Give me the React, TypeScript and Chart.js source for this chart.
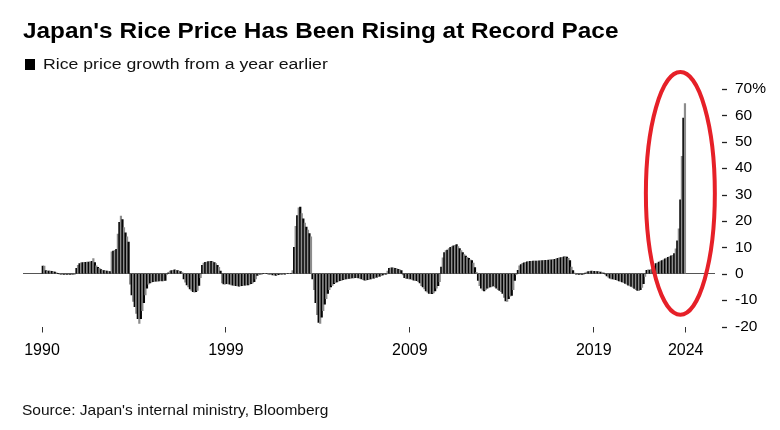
import React, { useEffect, useRef } from 'react';
import { Chart, registerables } from 'chart.js';

Chart.register(...registerables);

// Monthly rice price growth from a year earlier (%), Jan 1990 onward
const growth1990s = [
  2.9, 2.9, 1.2, 1.1, 1.0, 1.0, 0.9, 0.8, 0.6, 0.3, 0.1, -0.1,
  -0.2, -0.3, -0.3, -0.3, -0.3, -0.3, -0.3, -0.3, -0.2, -0.1, 2.0, 3.2,
  3.8, 4.1, 4.2, 4.3, 4.3, 4.4, 4.4, 4.5, 4.7, 5.7, 4.2, 3.0,
  2.4, 2.0, 1.6, 1.3, 1.2, 1.1, 1.0, 0.9, 0.8, 8.3, 8.6, 8.9,
  9.2, 15.0, 19.5, 21.8, 20.5, 17.5, 15.5, 14.0, 12.0, -4.0, -8.0, -10.5,
  -12.5, -15.0, -17.0, -18.8, -17.0, -14.0, -11.0, -8.0, -5.5, -4.0, -3.5, -3.2,
  -3.0, -2.9, -2.8, -2.8, -2.7, -2.6, -2.7, -2.6, -2.5, -0.3, 0.3, 1.0,
  1.2, 1.3, 1.5, 1.3, 1.2, 1.0, 0.8, 0.4, -2.0, -3.2, -4.2, -5.0,
  -5.8, -6.3, -6.8, -7.0, -6.8, -6.3, -4.4, -1.5, 3.2, 4.0, 4.3, 4.4,
  4.6, 4.7, 4.7, 4.5, 4.2, 3.8, 3.2, 2.4, 1.0, -3.5, -3.9, -4.0,
];

const growth2000s = [
  -3.8, -3.9, -4.0, -4.2, -4.3, -4.4, -4.5, -4.6, -4.7, -4.6, -4.5, -4.4,
  -4.3, -4.2, -4.2, -4.0, -3.8, -3.5, -3.0, -2.0, -0.6, -0.3, -0.2, -0.1,
  0.0, 0.0, 0.0, -0.1, -0.2, -0.3, -0.5, -0.5, -0.6, -0.5, -0.4, -0.3,
  -0.2, -0.2, -0.1, 0.0, 0.0, 0.0, 0.0, 1.2, 10.0, 18.0, 22.0, 25.0,
  25.3, 22.8, 20.8, 19.2, 17.7, 16.5, 15.2, 14.0, -2.0, -6.0, -11.0, -15.5,
  -18.5, -18.8, -16.5, -14.0, -11.5, -9.5, -7.5, -6.0, -5.0, -4.4, -3.8, -3.4,
  -3.1, -2.8, -2.6, -2.5, -2.3, -2.1, -2.0, -1.9, -1.8, -1.7, -1.6, -1.6,
  -1.5, -1.5, -1.6, -1.8, -2.0, -2.3, -2.4, -2.4, -2.3, -2.2, -2.0, -1.8,
  -1.7, -1.5, -1.3, -1.1, -0.9, -0.7, -0.5, -0.3, -0.1, 1.0, 2.0, 2.2,
  2.2, 2.1, 2.0, 1.9, 1.7, 1.5, 1.2, -0.5, -1.5, -1.8, -1.8, -2.0,
];

const growth2010s = [
  -2.0, -2.2, -2.4, -2.5, -2.6, -3.0, -3.5, -4.5, -5.0, -5.8, -6.5, -7.0,
  -7.5, -7.6, -7.6, -7.3, -6.5, -5.5, -4.5, -3.0, 2.5, 6.0, 8.0, 8.8,
  9.0, 9.5, 10.0, 10.3, 10.6, 10.8, 11.0, 10.3, 9.5, 8.8, 8.0, 7.3,
  6.7, 6.2, 5.8, 5.3, 5.0, 4.0, 2.3, 0.5, -2.5, -4.5, -5.5, -6.2,
  -6.5, -6.0, -5.5, -5.2, -5.0, -4.8, -4.6, -5.0, -5.5, -6.0, -6.3, -6.8,
  -7.5, -9.0, -10.3, -10.5, -9.5, -8.5, -8.2, -6.0, -2.5, -0.3, 1.3, 3.0,
  3.5, 3.9, 4.1, 4.3, 4.5, 4.6, 4.7, 4.7, 4.8, 4.8, 4.8, 4.8,
  4.9, 4.9, 5.0, 5.0, 5.1, 5.1, 5.2, 5.3, 5.3, 5.4, 5.5, 5.6,
  5.8, 6.0, 6.1, 6.2, 6.4, 6.5, 6.3, 5.8, 5.0, 2.5, 1.2, 0.2,
  -0.2, -0.3, -0.3, -0.3, -0.3, -0.2, 0.2, 0.6, 0.8, 0.9, 1.0, 0.9,
];

const growth2020s = [
  0.9, 0.9, 0.8, 0.7, 0.6, 0.4, 0.2, -0.3, -0.8, -1.3, -1.7, -2.0,
  -2.0, -2.2, -2.3, -2.5, -2.7, -2.9, -3.1, -3.4, -3.7, -4.0, -4.3, -4.6,
  -4.8, -5.2, -5.6, -6.0, -6.3, -6.4, -6.0, -5.2, -3.8, -1.0, 1.3, 1.5,
  1.4, 1.6, 2.0, 2.8, 3.8, 4.0, 4.4, 4.8, 5.0, 5.3, 5.6, 5.9,
  6.2, 6.5, 6.8, 7.0, 7.6, 9.4, 12.5, 17.0, 28.0, 44.5, 59.0, 64.5,
];

const growth = [...growth1990s, ...growth2000s, ...growth2010s, ...growth2020s];

// x-axis labels and their positions (months from Jan 1990)
const tickLabels = ['1990', '1999', '2009', '2019', '2024'];
const tickMonths = [0, 120, 240, 360, 420];

// highlighted region (circled) in data units
const highlightMonths = [394, 439];
const highlightRange = [-15.5, 76.4];

const FONT = '"Liberation Sans", Arial, Helvetica, sans-serif';

const axisDashes = {
  id: 'axisDashes',
  afterDraw(chart: any) {
    const ys = chart.scales.y;
    const { ctx, chartArea } = chart;
    ctx.save();
    ctx.strokeStyle = '#222';
    ctx.lineWidth = 1.3;
    ys.ticks.forEach((t: any) => {
      const py = Math.round(ys.getPixelForValue(t.value)) + 0.5;
      ctx.beginPath();
      ctx.moveTo(chartArea.right + 7, py);
      ctx.lineTo(chartArea.right + 12, py);
      ctx.stroke();
    });
    ctx.restore();
  },
};

const highlightEllipse = {
  id: 'highlightEllipse',
  afterDraw(chart: any) {
    const xs = chart.scales.x;
    const ys = chart.scales.y;
    const { ctx } = chart;
    const x1 = xs.getPixelForValue(highlightMonths[0]);
    const x2 = xs.getPixelForValue(highlightMonths[1]);
    const y1 = ys.getPixelForValue(highlightRange[1]);
    const y2 = ys.getPixelForValue(highlightRange[0]);
    ctx.save();
    ctx.strokeStyle = 'rgb(230, 32, 40)';
    ctx.lineWidth = 4;
    ctx.beginPath();
    ctx.ellipse((x1 + x2) / 2, (y1 + y2) / 2, (x2 - x1) / 2, (y2 - y1) / 2, 0, 0, Math.PI * 2);
    ctx.stroke();
    ctx.restore();
  },
};

const textBase: React.CSSProperties = {
  position: 'absolute',
  whiteSpace: 'nowrap',
  lineHeight: 1,
  fontFamily: FONT,
  transformOrigin: 'left center',
};

export default function App() {
  const ref = useRef<HTMLCanvasElement>(null);

  useEffect(() => {
    const canvas = ref.current;
    if (!canvas) return;
    const chart = new Chart(canvas, {
      type: 'bar',
      data: {
        datasets: [
          {
            label: 'Rice price growth from a year earlier',
            data: growth.map((v, i) => ({ x: i + 0.5, y: v })),
            backgroundColor: (c: any) => (c.dataIndex % 2 === 0 ? '#050505' : '#8c8c8c'),
            borderWidth: 0,
            categoryPercentage: 1,
            barPercentage: 1,
          } as any,
        ],
      },
      options: {
        responsive: false,
        animation: false,
        devicePixelRatio: 1,
        layout: { padding: { left: 23, top: 89, right: 0, bottom: 63.5 } },
        plugins: {
          legend: { display: false },
          tooltip: { enabled: false },
          title: { display: false },
        },
        scales: {
          x: {
            type: 'linear',
            min: -12.4,
            max: 439.1,
            offset: false,
            bounds: 'data',
            grid: {
              display: true,
              drawOnChartArea: false,
              drawTicks: true,
              tickLength: 6,
              tickColor: '#333',
              tickWidth: 1,
              offset: false,
            },
            border: { display: false },
            afterBuildTicks: (s: any) => {
              s.ticks = tickMonths.map((v) => ({ value: v }));
            },
            afterFit: (s: any) => {
              s.height = 40;
            },
            ticks: {
              autoSkip: false,
              maxRotation: 0,
              minRotation: 0,
              padding: 8,
              color: '#000',
              font: { family: FONT, size: 16 },
              callback: (_v: any, i: number) => tickLabels[i] ?? '',
            },
          } as any,
          y: {
            position: 'right',
            min: -20,
            max: 70,
            grid: {
              drawTicks: false,
              lineWidth: 1,
              color: (c: any) => (c.tick && c.tick.value === 0 ? '#555' : 'rgba(0,0,0,0)'),
            },
            border: { display: false },
            afterFit: (s: any) => {
              s.width = 65;
            },
            ticks: {
              stepSize: 10,
              padding: 20,
              color: '#000',
              font: { family: FONT, size: 15.5 },
              callback: (v: any) => (v === 70 ? '70%' : String(v)),
            },
          } as any,
        },
      },
      plugins: [axisDashes, highlightEllipse],
    });
    return () => chart.destroy();
  }, []);

  return (
    <div
      style={{
        position: 'fixed',
        left: 0,
        top: 0,
        width: 780,
        height: 430,
        background: '#fff',
        overflow: 'hidden',
      }}
    >
      <canvas
        ref={ref}
        width={780}
        height={430}
        style={{ position: 'absolute', left: 0, top: 0, width: 780, height: 430 }}
      />
      <div
        style={{
          ...textBase,
          left: 22.5,
          top: 19.7,
          fontSize: 22,
          fontWeight: 700,
          color: '#000',
          transform: 'scaleX(1.106)',
        }}
      >
        Japan's Rice Price Has Been Rising at Record Pace
      </div>
      <div
        style={{
          position: 'absolute',
          left: 25,
          top: 59,
          width: 10,
          height: 11,
          background: '#000',
        }}
      />
      <div
        style={{
          ...textBase,
          left: 43,
          top: 56.4,
          fontSize: 15.5,
          color: '#111',
          transform: 'scaleX(1.14)',
        }}
      >
        Rice price growth from a year earlier
      </div>
      <div
        style={{
          ...textBase,
          left: 22,
          top: 402,
          fontSize: 15,
          color: '#111',
          transform: 'scaleX(1.035)',
        }}
      >
        Source: Japan's internal ministry, Bloomberg
      </div>
    </div>
  );
}
